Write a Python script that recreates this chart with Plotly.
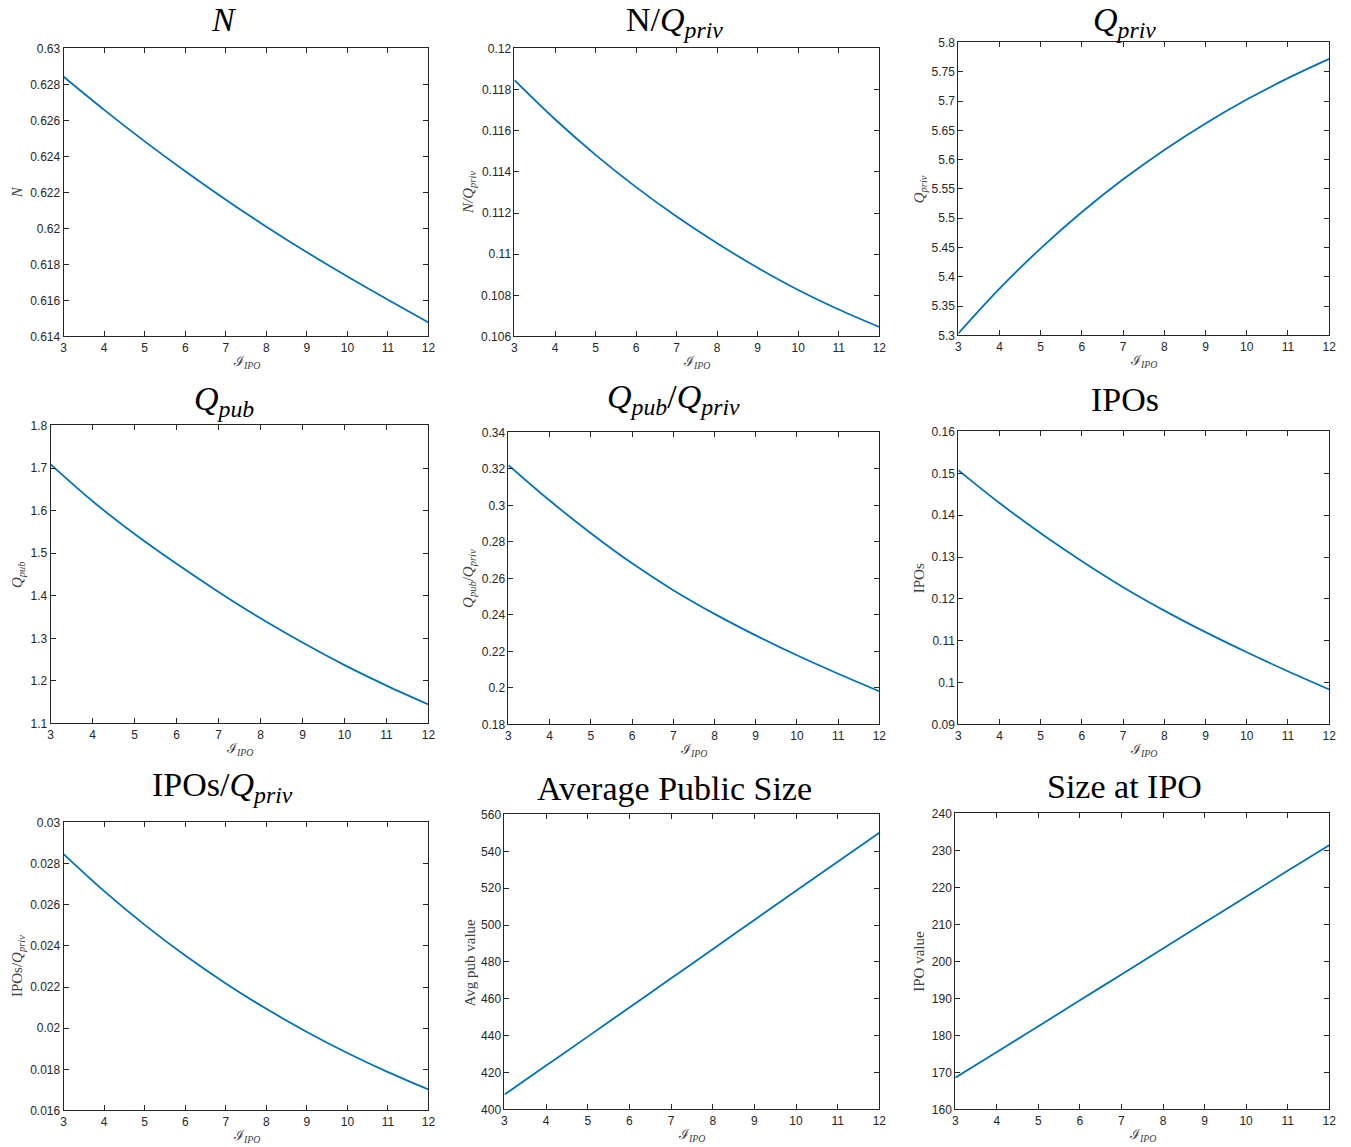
import plotly.graph_objects as go

# ---------------- data ----------------
x_ipo = [3, 4, 5, 6, 7, 8, 9, 10, 11, 12]

N_vals = [0.62843, 0.62659, 0.62484, 0.62318, 0.62160, 0.62010, 0.61868, 0.61733, 0.61604, 0.61478]
N_over_Qpriv = [0.11846, 0.11656, 0.11483, 0.11326, 0.11183, 0.11053, 0.10934, 0.10826, 0.10731, 0.10646]
Qpriv_vals = [5.3034, 5.3799, 5.4487, 5.5107, 5.5665, 5.6167, 5.6619, 5.7026, 5.7392, 5.7721]
Qpub_vals = [1.7085, 1.622, 1.545, 1.475, 1.409, 1.347, 1.290, 1.237, 1.189, 1.1446]
Qpub_over_Qpriv = [0.3221, 0.3027, 0.2848, 0.2683, 0.2536, 0.2406, 0.2288, 0.2179, 0.2078, 0.1982]
IPOs_vals = [0.15077, 0.14290, 0.13566, 0.12900, 0.12280, 0.11720, 0.11205, 0.10725, 0.10270, 0.09835]
IPOs_over_Qpriv = [0.028459, 0.026659, 0.025021, 0.023530, 0.022174, 0.020940, 0.019817, 0.018795, 0.017865, 0.017019]
avg_pub_value = [408.1, 423.8, 439.5, 455.3, 471.1, 486.9, 502.8, 518.6, 534.3, 550.1]
ipo_value = [168.6, 175.5, 182.5, 189.5, 196.5, 203.5, 210.5, 217.5, 224.5, 231.4]

titles = [
    "<i>N</i>",
    "N/<i>Q</i><sub><i>priv</i></sub>",
    "<i>Q</i><sub><i>priv</i></sub>",
    "<i>Q</i><sub><i>pub</i></sub>",
    "<i>Q</i><sub><i>pub</i></sub>/<i>Q</i><sub><i>priv</i></sub>",
    "IPOs",
    "IPOs/<i>Q</i><sub><i>priv</i></sub>",
    "Average Public Size",
    "Size at IPO",
]
ylabels = [
    "<i>N</i>",
    "<i>N/Q</i><sub><i>priv</i></sub>",
    "<i>Q</i><sub><i>priv</i></sub>",
    "<i>Q</i><sub><i>pub</i></sub>",
    "<i>Q</i><sub><i>pub</i></sub>/<i>Q</i><sub><i>priv</i></sub>",
    "IPOs",
    "IPOs/<i>Q</i><sub><i>priv</i></sub>",
    "Avg pub value",
    "IPO value",
]
series = [N_vals, N_over_Qpriv, Qpriv_vals, Qpub_vals, Qpub_over_Qpriv,
          IPOs_vals, IPOs_over_Qpriv, avg_pub_value, ipo_value]
y_ranges = [(0.614, 0.63), (0.106, 0.12), (5.3, 5.8), (1.1, 1.8), (0.18, 0.34),
            (0.09, 0.16), (0.016, 0.03), (400, 560), (160, 240)]
y_dticks = [0.002, 0.002, 0.05, 0.1, 0.02, 0.01, 0.002, 20, 10]
x_label = "ℐ<sub><i>IPO</i></sub>"

# ---------------- layout (pixel boxes) ----------------
W, H = 1351, 1147


def cx(px):
    # compensate the slight shrink observed in the rendered page
    return (px - 2.35) / 0.99296


def cy(py):
    return (py - 6.51) / 0.98783


# left, right, top, bottom (target pixels)
boxes = [
    (63, 428, 48, 336), (514, 879, 48, 336), (958, 1329, 42, 335),
    (50, 428, 425, 723), (508, 879, 432, 724), (958, 1329, 431, 724),
    (63, 428, 822, 1110), (504, 879, 814, 1109), (955, 1329, 813, 1109),
]
title_pos = [(223, 19), (674, 22), (1124, 22), (223, 401), (673, 399), (1125, 399),
             (222, 787), (674, 788), (1124, 786)]
ylabel_x = [17, 469, 920, 18, 469, 919, 18, 469, 919]

LINE = "#0072BD"
AX = "#262626"
SERIF = "Liberation Serif, Times New Roman, serif"
SANS = "Liberation Sans, Arial, Helvetica, sans-serif"

fig = go.Figure()
annotations = []
layout_axes = {}
for i in range(9):
    l, r, t, b = boxes[i]
    L, R, T, B = cx(l), cx(r), cy(t), cy(b)
    xa = "x" if i == 0 else f"x{i+1}"
    ya = "y" if i == 0 else f"y{i+1}"
    fig.add_trace(go.Scatter(x=x_ipo, y=series[i], mode="lines",
                             line=dict(color=LINE, width=1.8, shape="spline",
                                       smoothing=1.0),
                             xaxis=xa, yaxis=ya, showlegend=False,
                             cliponaxis=True))
    common = dict(showgrid=False, zeroline=False, showline=True, linecolor=AX,
                  linewidth=1, mirror="ticks", ticks="inside", ticklen=5,
                  tickcolor=AX, tickwidth=1,
                  tickfont=dict(family=SANS, size=12, color=AX))
    layout_axes["xaxis" if i == 0 else f"xaxis{i+1}"] = dict(
        domain=[L / W, R / W], anchor=ya, range=[3, 12],
        tickmode="linear", tick0=3, dtick=1, **common)
    layout_axes["yaxis" if i == 0 else f"yaxis{i+1}"] = dict(
        domain=[1 - B / H, 1 - T / H], anchor=xa, range=list(y_ranges[i]),
        tickmode="linear", tick0=y_ranges[i][0], dtick=y_dticks[i], **common)
    tx, ty = title_pos[i]
    annotations.append(dict(text=titles[i], x=cx(tx) / W, y=1 - cy(ty) / H,
                            xref="paper", yref="paper", xanchor="center",
                            yanchor="middle", showarrow=False,
                            font=dict(family=SERIF, size=34, color="black")))
    annotations.append(dict(text=ylabels[i], x=cx(ylabel_x[i]) / W,
                            y=1 - cy((t + b) / 2) / H, xref="paper", yref="paper",
                            xanchor="center", yanchor="middle", textangle=-90,
                            showarrow=False,
                            font=dict(family=SERIF, size=15, color="#404040")))
    annotations.append(dict(text=x_label, x=cx((l + r) / 2) / W,
                            y=1 - cy(b + 26) / H,
                            xref="paper", yref="paper", xanchor="center",
                            yanchor="middle", showarrow=False,
                            font=dict(family=SERIF, size=14, color="#404040")))

fig.update_layout(width=W, height=H, margin=dict(l=0, r=0, t=0, b=0),
                  paper_bgcolor="white", plot_bgcolor="white",
                  annotations=annotations, **layout_axes)

fig.write_html("out.html")
